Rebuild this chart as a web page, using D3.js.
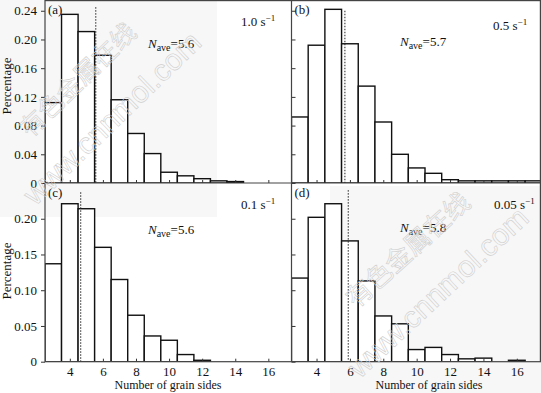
<!DOCTYPE html>
<html>
<head>
<meta charset="utf-8">
<script src="https://cdn.jsdelivr.net/npm/d3@7"></script>
<style>
body { margin: 0; background: #fff; }
svg { display: block; font-family: "Liberation Serif", "Times New Roman", serif; }
</style>
</head>
<body>
<script>
const w = 541
const h = 393

// grain side counts (bar centres)
const sides = [3, 4, 5, 6, 7, 8, 9, 10, 11, 12, 13, 14, 15, 16, 17]
// fraction of grains per side count, one list per strain rate
const pctA = [0.112, 0.235, 0.211, 0.178, 0.116, 0.069, 0.041, 0.015, 0.010, 0.006, 0.003, 0.002]
const pctB = [0.092, 0.192, 0.242, 0.194, 0.135, 0.085, 0.040, 0.021, 0.0135, 0.0046, 0.003, 0.003, 0.003, 0.003, 0.003]
const pctC = [0.137, 0.221, 0.214, 0.160, 0.115, 0.065, 0.036, 0.030, 0.010, 0.002]
const pctD = [0.117, 0.202, 0.221, 0.169, 0.113, 0.064, 0.053, 0.017, 0.020, 0.010, 0.004, 0.005, 0, 0.002]

const tags = ["(a)", "(b)", "(c)", "(d)"]
const rates = ["1.0", "0.5", "0.1", "0.05"]
const nAve = ["5.6", "5.7", "5.6", "5.8"]
const avgLine = [5.57, 5.7, 4.66, 5.9]
const avgLineTop = [0.245, 0.24, 0.237, 0.24]

const yTicksTop = [0, 0.04, 0.08, 0.12, 0.16, 0.20, 0.24]
const yTicksBottom = [0, 0.05, 0.10, 0.15, 0.20]
const xTicks = [4, 6, 8, 10, 12, 14, 16]

const series = [pctA, pctB, pctC, pctD]

const svg = d3.select("body").append("svg")
	.attr("width", w).attr("height", h)

// faint grey patches left behind by the scan
svg.append("rect").attr("x", 0).attr("y", 0).attr("width", 217).attr("height", 217).attr("fill", "#f7f7f7")
svg.append("rect").attr("x", 330).attr("y", 186).attr("width", 211).attr("height", 207).attr("fill", "#f7f7f7")

const padL = 45, padMid = 291.5, padR = 541
const padT = 0, padSplit = 183, padB = 361.7

series.forEach((vals, i) => {
	const col = i % 2
	const row = Math.floor(i / 2)
	const x = d3.scaleLinear()
		.domain([2.5, col ? 17.45 : 17.4])
		.range([col ? padMid : padL, col ? padR : padMid])
	const y = row
		? d3.scaleLinear().domain([0, 0.25]).range([padB, padSplit])
		: d3.scaleLinear().domain([0, 0.255]).range([padSplit, padT])

	const x0 = x.range()[0], x1 = x.range()[1]
	const y0 = y.range()[0], y1 = y.range()[1]

	const g = svg.append("g")
	g.append("clipPath").attr("id", "clip" + i)
		.append("rect").attr("x", x0).attr("y", y1).attr("width", x1 - x0).attr("height", y0 - y1)

	const data = vals.map((v, k) => ({s: sides[k], v: v})).filter(d => d.v > 0)

	g.append("g").attr("clip-path", `url(#clip${i})`)
		.selectAll("rect")
		.data(data)
		.enter()
		.append("rect")
		.attr("x", d => x(d.s - 0.5))
		.attr("width", d => x(d.s + 0.5) - x(d.s - 0.5))
		.attr("y", d => y(d.v))
		.attr("height", d => y(0) - y(d.v))
		.attr("fill", "#fff")
		.attr("stroke", "#111")
		.attr("stroke-width", 1.4)

	// average side count marker
	g.append("line")
		.attr("x1", x(avgLine[i])).attr("x2", x(avgLine[i]))
		.attr("y1", y(avgLineTop[i])).attr("y2", y(0))
		.attr("stroke", "#222")
		.attr("stroke-width", 1)
		.attr("stroke-dasharray", "1.5,1.5")

	// x axis ticks (inward), labels on bottom row only
	const xa = g.append("g")
		.attr("transform", `translate(0,${y0})`)
		.call(d3.axisBottom(x).tickValues(xTicks).tickSize(-3).tickPadding(5)
			.tickFormat(row ? d3.format("d") : ""))
	xa.select(".domain").remove()
	xa.selectAll("line").attr("stroke", "#333")
	xa.selectAll("text").attr("font-size", 13).attr("fill", "#111")
		.attr("font-family", "Liberation Serif")

	// y axis
	const yt = row ? yTicksBottom : yTicksTop
	const yAxis = col
		? d3.axisRight(y).tickValues(yt).tickSize(4).tickFormat("")
		: d3.axisLeft(y).tickValues(yt).tickSize(4).tickPadding(4)
			.tickFormat(d => d === 0 ? "0" : d3.format(".2f")(d))
	const ya = g.append("g")
		.attr("transform", `translate(${x0},0)`)
		.call(yAxis)
	ya.select(".domain").remove()
	ya.selectAll("line").attr("stroke", "#333")
	ya.selectAll("text").attr("font-size", 13).attr("fill", "#111")
		.attr("font-family", "Liberation Serif")

	// panel tag
	g.append("text")
		.attr("x", x0 + 3).attr("y", row ? 197 : 14)
		.attr("font-size", 13).attr("fill", "#111")
		.text(tags[i])

	// strain rate
	const rx = col ? (row ? 494 : 493) : 241
	const ry = row ? 209 : (col ? 30 : 26)
	const rt = g.append("text")
		.attr("x", rx).attr("y", ry)
		.attr("font-size", 13).attr("fill", "#111")
	rt.append("tspan").text(rates[i] + " s")
	rt.append("tspan").attr("font-size", 9).attr("dy", -5).text("\u22121")

	// average
	const nx = col ? 400 : 148
	const ny = row ? (col ? 232 : 234) : (col ? 46 : 48)
	const nt = g.append("text")
		.attr("x", nx).attr("y", ny)
		.attr("font-size", 13).attr("fill", "#111")
	nt.append("tspan").attr("font-style", "italic").text("N")
	nt.append("tspan").attr("font-size", 10).attr("dy", 3).text("ave")
	nt.append("tspan").attr("dy", -3).text("=" + nAve[i])
})

// frame
const frame = svg.append("g").attr("fill", "none").attr("stroke", "#444").attr("stroke-width", 1.2)
frame.append("rect").attr("x", padL).attr("y", padT + 0.6).attr("width", padR - 0.6 - padL).attr("height", padB - padT - 0.6)
frame.append("line").attr("x1", padMid).attr("x2", padMid).attr("y1", padT).attr("y2", padB)
frame.append("line").attr("x1", padL).attr("x2", padR).attr("y1", padSplit).attr("y2", padSplit)

// axis titles
;[86, 271].forEach(cy => {
	svg.append("text")
		.attr("transform", `translate(11,${cy}) rotate(-90)`)
		.attr("text-anchor", "middle")
		.attr("font-size", 13).attr("fill", "#111")
		.text("Percentage")
})
;[168, 429].forEach(cx => {
	svg.append("text")
		.attr("x", cx).attr("y", 389)
		.attr("text-anchor", "middle")
		.attr("font-size", 12).attr("fill", "#111")
		.text("Number of grain sides")
})

// watermark text, drawn faintly over everything
const marks = [
	{cx: 78, cy: 80, a: -44, t: "有色金属在线", f: 25, fam: "Noto Sans CJK SC"},
	{cx: 112, cy: 118, a: -44, t: "www.cnnmol.com", f: 30, fam: "Liberation Sans"},
	{cx: 408, cy: 250, a: -42, t: "有色金属在线", f: 26, fam: "Noto Sans CJK SC"},
	{cx: 438, cy: 292, a: -43, t: "www.cnnmol.com", f: 30, fam: "Liberation Sans"}
]
svg.append("g").attr("fill", "none").attr("stroke", "#cfcfcf").attr("stroke-width", 0.6)
	.selectAll("text")
	.data(marks)
	.enter()
	.append("text")
	.attr("transform", d => `translate(${d.cx},${d.cy}) rotate(${d.a})`)
	.attr("text-anchor", "middle")
	.attr("dy", "0.35em")
	.attr("font-size", d => d.f)
	.attr("font-family", d => d.fam)
	.text(d => d.t)
</script>
</body>
</html>
